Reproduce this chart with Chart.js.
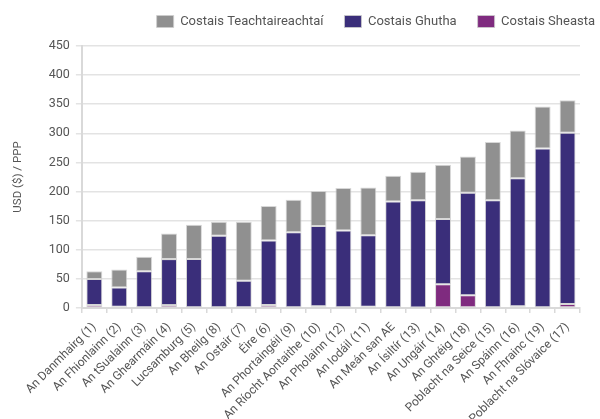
<!DOCTYPE html>
<html>
<head>
<meta charset="utf-8">
<script src="https://cdn.jsdelivr.net/npm/chart.js@4.4.1/dist/chart.umd.min.js"></script>
<style>
  html, body { margin: 0; padding: 0; background: #fff; }
  #wrap { width: 600px; height: 419px; }
</style>
</head>
<body>
<div id="wrap"><canvas id="chart"></canvas></div>
<script>
const countries = [
  'An Danmhairg (1)', 'An Fhionlainn (2)', 'An tSualainn (3)', 'An Ghearmáin (4)',
  'Lucsamburg (5)', 'An Bheilg (8)', 'An Ostair (7)', 'Éire (6)',
  'An Phortaingéil (9)', 'An Ríocht Aontaithe (10)', 'An Pholainn (12)', 'An Iodáil (11)',
  'An Meán san AE', 'An Ísiltír (13)', 'An Ungáir (14)', 'An Ghréig (18)',
  'Poblacht na Seice (15)', 'An Spáinn (16)', 'An Fhrainc (19)', 'Poblacht na Slóvaice (17)'
];
const sheasta = [5, 2, 0, 5, 0, 0, 0, 5, 0, 3, 0, 2, 0, 1, 41, 22, 0, 3, 0, 7];
const ghutha = [45, 33, 63, 79, 84, 124, 47, 111, 130, 138, 133, 123, 183, 184, 112, 176, 185, 220, 274, 294];
const teacht = [13, 31, 25, 44, 59, 24, 101, 59, 56, 60, 73, 82, 44, 49, 93, 62, 100, 82, 72, 56];

const yTicks = [0, 50, 100, 150, 200, 250, 300, 350, 400, 450];

const font = 'Roboto, "Noto Sans", sans-serif';
const textColor = '#555';

new Chart(document.getElementById('chart'), {
  type: 'bar',
  data: {
    labels: countries,
    datasets: [
      { label: 'Costais Sheasta', data: sheasta, backgroundColor: '#7f2b7f' },
      { label: 'Costais Ghutha', data: ghutha, backgroundColor: '#3a2e7a' },
      { label: 'Costais Teachtaireachtaí', data: teacht, backgroundColor: '#909090' }
    ]
  },
  options: {
    responsive: true,
    maintainAspectRatio: false,
    animation: false,
    // negative top/right so the legend sits where the original has it
    layout: { padding: { left: 7, right: -16, top: -6, bottom: 0 } },
    datasets: {
      bar: {
        barPercentage: 0.64,
        categoryPercentage: 1,
        borderColor: 'rgba(205,205,205,0.8)',
        borderWidth: 1,
        borderSkipped: false
      }
    },
    plugins: {
      legend: {
        position: 'top',
        align: 'end',
        reverse: true,
        labels: {
          boxWidth: 17,
          boxHeight: 12,
          padding: 21,
          color: textColor,
          font: { family: font, size: 13 }
        }
      },
      tooltip: { enabled: false }
    },
    scales: {
      x: {
        stacked: true,
        grid: {
          display: true,
          drawOnChartArea: false,
          drawTicks: true,
          offset: true,
          tickLength: 5,
          color: '#d9d9d9',
          lineWidth: 1.5
        },
        border: { color: '#d9d9d9', width: 2 },
        ticks: {
          color: textColor,
          font: { family: font, size: 12 },
          maxRotation: 45,
          minRotation: 45,
          autoSkip: false,
          padding: 7
        },
        afterFit: s => { s.height = 111; }
      },
      xTop: {
        type: 'category',
        position: 'top',
        display: true,
        grid: { display: false },
        border: { display: false },
        ticks: { display: false },
        afterFit: s => { s.height = 8; }
      },
      y: {
        stacked: true,
        min: 0,
        max: 450,
        afterBuildTicks: axis => { axis.ticks = yTicks.map(v => ({ value: v })); },
        grid: {
          color: '#e3e3e3',
          lineWidth: 1.5,
          tickLength: 6
        },
        border: { color: '#d9d9d9', width: 2 },
        ticks: {
          color: textColor,
          font: { family: font, size: 12.5 },
          padding: 6
        },
        title: {
          display: true,
          text: 'USD ($) / PPP',
          color: textColor,
          font: { family: font, size: 11.5 },
          padding: { top: 4, bottom: 18 }
        }
      },
      yRight: {
        position: 'right',
        display: true,
        grid: { display: false },
        border: { display: false },
        ticks: { display: false },
        afterFit: s => { s.width = 36; }
      }
    }
  }
});
</script>
</body>
</html>
